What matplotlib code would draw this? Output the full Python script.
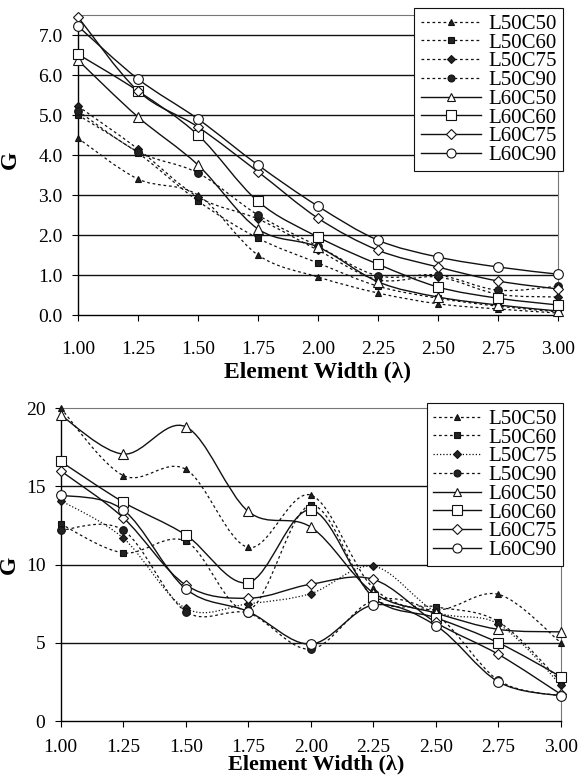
import numpy as np
import matplotlib
matplotlib.use('Agg')
import matplotlib.pyplot as plt
from matplotlib.path import Path
from matplotlib.patches import PathPatch
from matplotlib.lines import Line2D

plt.rcParams['font.family'] = ['Liberation Serif', 'DejaVu Serif']

widths = [1.00, 1.25, 1.50, 1.75, 2.00, 2.25, 2.50, 2.75, 3.00]
width_labels = ['1.00', '1.25', '1.50', '1.75', '2.00', '2.25', '2.50', '2.75', '3.00']
names = ['L50C50', 'L50C60', 'L50C75', 'L50C90', 'L60C50', 'L60C60', 'L60C75', 'L60C90']

# upper chart
top_l50c50 = [4.42, 3.40, 3.00, 1.50, 0.95, 0.55, 0.28, 0.15, 0.05]
top_l50c60 = [5.00, 4.05, 2.85, 1.92, 1.30, 0.72, 0.42, 0.22, 0.08]
top_l50c75 = [5.22, 4.15, 2.95, 2.40, 1.62, 0.88, 0.95, 0.52, 0.45]
top_l50c90 = [5.10, 4.08, 3.55, 2.50, 1.72, 0.98, 1.00, 0.62, 0.72]
top_l60c50 = [6.37, 4.95, 3.75, 2.15, 1.70, 0.83, 0.45, 0.25, 0.10]
top_l60c60 = [6.52, 5.60, 4.50, 2.84, 1.95, 1.27, 0.70, 0.42, 0.25]
top_l60c75 = [7.45, 5.60, 4.70, 3.58, 2.42, 1.62, 1.20, 0.85, 0.65]
top_l60c90 = [7.22, 5.90, 4.90, 3.75, 2.72, 1.87, 1.45, 1.20, 1.02]

# lower chart
bot_l50c50 = [20.0, 15.7, 16.1, 11.1, 14.45, 8.5, 7.1, 8.1, 5.0]
bot_l50c60 = [12.6, 10.75, 11.5, 7.1, 13.8, 7.9, 7.3, 6.35, 2.5]
bot_l50c75 = [14.1, 11.7, 7.2, 7.5, 8.15, 9.9, 7.0, 6.2, 2.3]
bot_l50c90 = [12.2, 12.2, 7.0, 6.9, 4.6, 7.7, 6.8, 2.6, 1.6]
bot_l60c50 = [19.56, 17.07, 18.82, 13.4, 12.4, 8.2, 6.9, 5.86, 5.7]
bot_l60c60 = [16.6, 14.0, 11.9, 8.85, 13.5, 7.9, 6.6, 5.0, 2.83]
bot_l60c75 = [16.0, 13.0, 8.7, 7.85, 8.75, 9.06, 6.3, 4.26, 1.7]
bot_l60c90 = [14.45, 13.5, 8.45, 7.0, 4.92, 7.42, 6.1, 2.5, 1.6]

top_series = [top_l50c50, top_l50c60, top_l50c75, top_l50c90,
              top_l60c50, top_l60c60, top_l60c75, top_l60c90]
bot_series = [bot_l50c50, bot_l50c60, bot_l50c75, bot_l50c90,
              bot_l60c50, bot_l60c60, bot_l60c75, bot_l60c90]

dash = (0, (2.2, 2.2))
fine = (0, (1.0, 1.6))
markers = ['^', 's', 'D', 'o', '^', 's', 'D', 'o']
msizes = [5, 5, 4.5, 5.5, 6.5, 7, 5.5, 7]


def smooth_curve(ax, x, y, ls, lw):
    # excel style smoothed line: bezier through each point
    n = len(x)
    verts = [(x[0], y[0])]
    codes = [Path.MOVETO]
    for i in range(n - 1):
        a = max(i - 1, 0)
        b = min(i + 2, n - 1)
        c1 = (x[i] + (x[i + 1] - x[a]) / 6, y[i] + (y[i + 1] - y[a]) / 6)
        c2 = (x[i + 1] - (x[b] - x[i]) / 6, y[i + 1] - (y[b] - y[i]) / 6)
        verts += [c1, c2, (x[i + 1], y[i + 1])]
        codes += [Path.CURVE4] * 3
    ax.add_patch(PathPatch(Path(verts, codes), fill=False, ec='#111111',
                           lw=lw, linestyle=ls, zorder=2, clip_on=False))


def draw_chart(ax, series, styles, ymax, yticks, yfmt, tick_pad, leg_anchor, hlen):
    handles = []
    for i, vals in enumerate(series):
        ls = styles[i]
        filled = i < 4
        lw = 0.9 if filled else 1.0
        smooth_curve(ax, widths, vals, ls, lw)
        fc = '#222222' if filled else 'white'
        ax.plot(widths, vals, linestyle='none', marker=markers[i], ms=msizes[i],
                mfc=fc, mec='#111111', mew=0.8, zorder=3, clip_on=False)
        handles.append(Line2D([], [], color='#111111', lw=lw, linestyle=ls,
                              marker=markers[i], ms=msizes[i] - 0.5, mfc=fc,
                              mec='#111111', mew=0.8))
    ax.set_xlim(1.0, 3.0)
    ax.set_ylim(0, ymax)
    ax.set_xticks(widths)
    ax.set_xticklabels(width_labels)
    ax.set_yticks(yticks)
    ax.set_yticklabels([yfmt.format(v) for v in yticks])
    ax.tick_params(axis='x', direction='out', length=4, width=0.8,
                   labelsize=14, pad=tick_pad)
    ax.tick_params(axis='y', direction='out', length=4, width=0.8,
                   labelsize=14, pad=7)
    for v in yticks:
        if 0 < v < ymax:
            ax.axhline(v, color='#111111', lw=1.0, zorder=1)
    ax.spines['left'].set_linewidth(1.0)
    ax.spines['bottom'].set_linewidth(1.0)
    for s in ['top', 'right']:
        ax.spines[s].set_linestyle((0, (1, 1)))
        ax.spines[s].set_color('#777777')
        ax.spines[s].set_linewidth(0.8)
    leg = fig.legend(handles, names, loc='upper right', bbox_to_anchor=leg_anchor,
                     fontsize=15, labelspacing=-0.04, handlelength=hlen,
                     handletextpad=0.35, borderpad=0.3, borderaxespad=0,
                     fancybox=False, edgecolor='#111111', framealpha=1)
    leg.get_frame().set_linewidth(0.8)
    leg.set_zorder(5)


fig = plt.figure(figsize=(5.79, 7.77), dpi=100)

ax1 = fig.add_axes([78 / 579, 1 - 315 / 777, 480 / 579, 300 / 777])
top_styles = [dash, dash, dash, dash, '-', '-', '-', '-']
draw_chart(ax1, top_series, top_styles, 7.5, [0, 1, 2, 3, 4, 5, 6, 7], '{:.1f}',
           15, (563 / 579, 1 - 8 / 777), 2.9)
ax1.set_xlabel('Element Width (\u03bb)', fontsize=17, fontweight='bold')
ax1.xaxis.set_label_coords(0.5, -0.155)
ax1.set_ylabel('G', fontsize=17, fontweight='bold')
ax1.yaxis.set_label_coords(-0.119, 0.517)

ax2 = fig.add_axes([60.7 / 579, 1 - 721 / 777, 500.3 / 579, 312.7 / 777])
bot_styles = [dash, dash, fine, dash, '-', '-', '-', '-']
draw_chart(ax2, bot_series, bot_styles, 20, [0, 5, 10, 15, 20], '{:d}',
           9, (563 / 579, 1 - 403 / 777), 2.3)
ax2.set_xlabel('Element Width (\u03bb)', fontsize=16, fontweight='bold')
ax2.xaxis.set_label_coords(0.51, -0.108)
ax2.set_ylabel('G', fontsize=17, fontweight='bold')
ax2.yaxis.set_label_coords(-0.081, 0.5)

fig.savefig('out.png', dpi=100)
